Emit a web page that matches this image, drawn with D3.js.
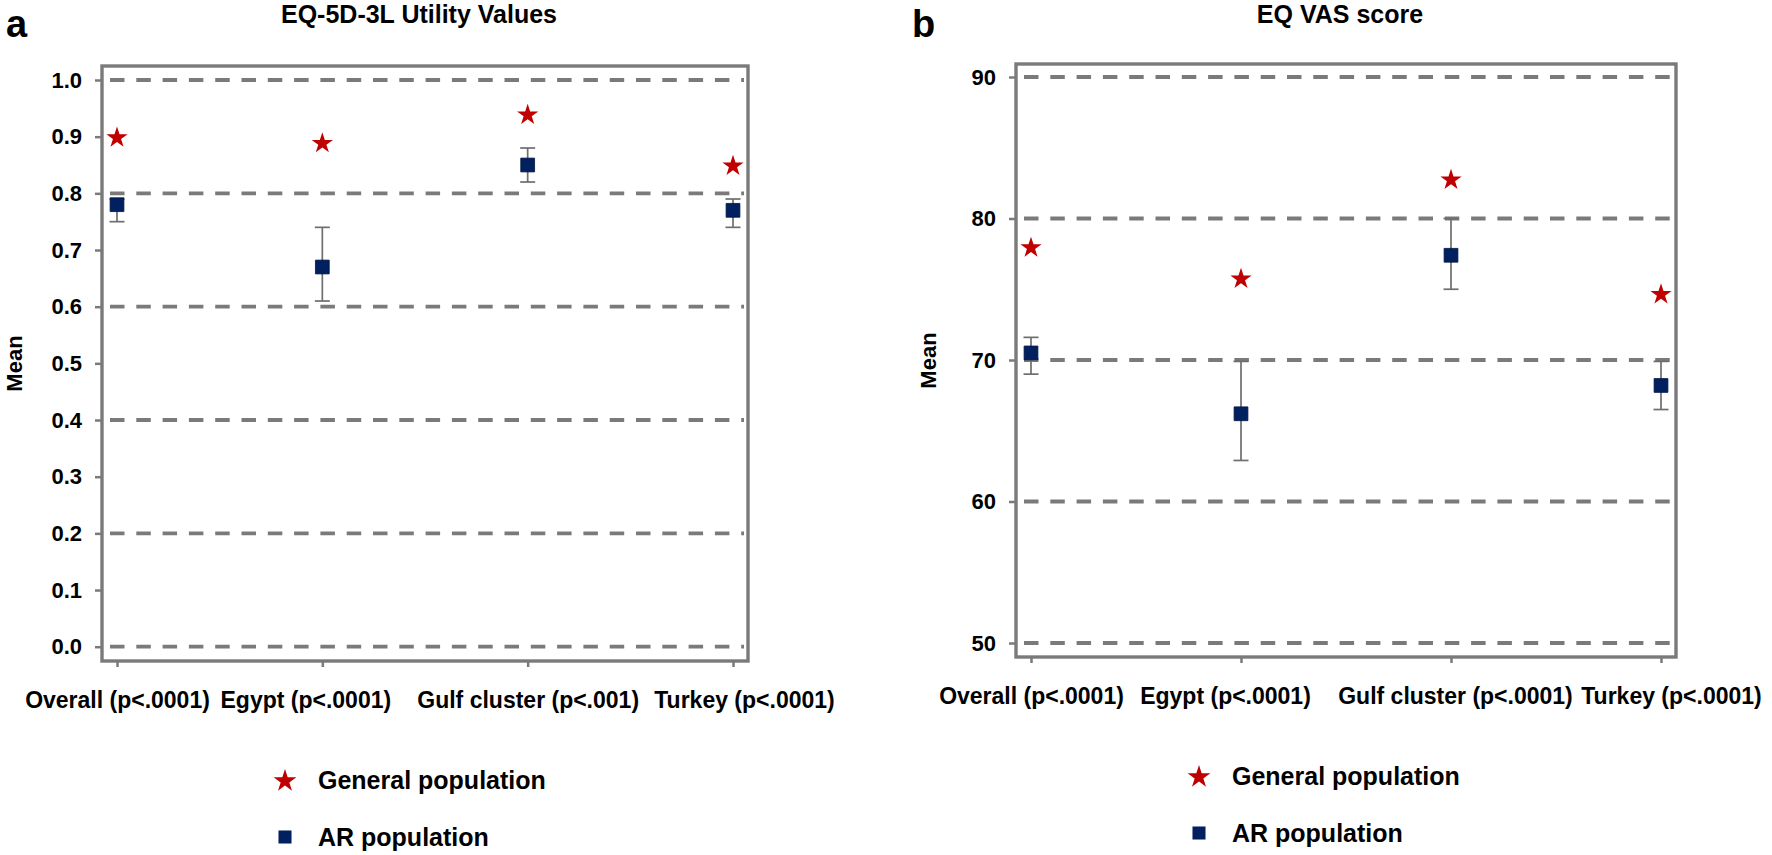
<!DOCTYPE html>
<html>
<head>
<meta charset="utf-8">
<script src="https://cdn.jsdelivr.net/npm/d3@7"></script>
<style>
  body { margin: 0; background: #fff; }
  svg { display: block; font-family: "Liberation Sans", Arial, sans-serif; font-weight: bold; }
</style>
</head>
<body>
<svg id="chart" width="1772" height="855"></svg>
<script>
// ---- data ----
var utilCategories = ["Overall (p<.0001)", "Egypt (p<.0001)", "Gulf cluster (p<.001)", "Turkey (p<.0001)"]
var utilGeneral = [0.90, 0.89, 0.94, 0.85]
var utilAR      = [0.78, 0.67, 0.85, 0.77]
var utilLower   = [0.75, 0.61, 0.82, 0.74]
var utilUpper   = [0.79, 0.74, 0.88, 0.79]
var utilTicks   = [0, 0.1, 0.2, 0.3, 0.4, 0.5, 0.6, 0.7, 0.8, 0.9, 1.0]
var utilGrid    = [0, 0.2, 0.4, 0.6, 0.8, 1.0]

var vasCategories = ["Overall (p<.0001)", "Egypt (p<.0001)", "Gulf cluster (p<.0001)", "Turkey (p<.0001)"]
var vasGeneral = [78.0, 75.8, 82.8, 74.7]
var vasAR      = [70.5, 66.2, 77.4, 68.2]
var vasLower   = [69.0, 62.9, 75.0, 66.5]
var vasUpper   = [71.6, 69.9, 80.0, 69.9]
var vasTicks   = [50, 60, 70, 80, 90]
var vasGrid    = [50, 60, 70, 80, 90]

var legendLabels = ["General population", "AR population"]

// ---- styles ----
var STAR = "#c00000", SQUARE = "#002060", GREY = "#7a7a7a", BAR = "#6e6e6e"

var svg = d3.select("#chart")

function drawPanel(o) {
  var f = o.frame
  var g = svg.append("g").attr("class", "panel")

  var x = d3.scalePoint().domain(o.categories).range([f.x0 + 15, f.x1 - 15])
  var y = d3.scaleLinear().domain(o.domain).range(o.range)

  // panel letter + title
  g.append("text").attr("x", o.letterX).attr("y", 37)
    .attr("font-size", 38).text(o.letter)
  g.append("text").attr("x", (f.x0 + f.x1) / 2 - 6).attr("y", 23)
    .attr("text-anchor", "middle").attr("font-size", 25).text(o.title)

  // dashed reference lines
  g.selectAll("line.grid").data(o.grid).enter().append("line")
    .attr("class", "grid")
    .attr("x1", f.x0 + 2).attr("x2", f.x1 - 4)
    .attr("y1", d => y(d)).attr("y2", d => y(d))
    .attr("stroke", GREY).attr("stroke-width", 3.8)
    .attr("stroke-dasharray", "14.5,11.8").attr("stroke-dashoffset", -6)

  // y axis
  var ya = g.append("g").attr("transform", "translate(" + f.x0 + ",0)")
    .call(d3.axisLeft(y).tickValues(o.ticks).tickFormat(o.fmt).tickSize(7).tickPadding(13))
  ya.select(".domain").remove()
  ya.selectAll("line").attr("stroke", GREY).attr("stroke-width", 2.5)
  ya.selectAll("text").attr("font-size", 22).attr("font-family", null)
    .attr("font-weight", "bold").attr("fill", "#000")

  // x axis
  var xa = g.append("g").attr("transform", "translate(0," + f.y1 + ")")
    .call(d3.axisBottom(x).tickSize(6).tickPadding(25))
  xa.select(".domain").remove()
  xa.selectAll("line").attr("stroke", GREY).attr("stroke-width", 2.5)
  xa.selectAll("text").attr("font-size", 23).attr("font-family", null)
    .attr("font-weight", "bold").attr("fill", "#000")
    .attr("dx", (d, i) => o.nudge[i])

  // frame
  g.append("rect").attr("x", f.x0).attr("y", f.y0)
    .attr("width", f.x1 - f.x0).attr("height", f.y1 - f.y0)
    .attr("fill", "none").attr("stroke", GREY).attr("stroke-width", 3.4)

  // y title
  g.append("text")
    .attr("transform", "translate(" + (f.x0 - 80) + "," + ((f.y0 + f.y1) / 2) + ") rotate(-90)")
    .attr("text-anchor", "middle").attr("font-size", 22).text("Mean")

  var rows = o.categories.map((c, i) => ({
    cat: c, gen: o.general[i], ar: o.ar[i], lo: o.lower[i], hi: o.upper[i]
  }))

  // error bars
  var eb = g.selectAll("g.err").data(rows).enter().append("g").attr("class", "err")
    .attr("stroke", BAR).attr("stroke-width", 1.7)
  eb.append("line").attr("x1", d => x(d.cat)).attr("x2", d => x(d.cat))
    .attr("y1", d => y(d.lo)).attr("y2", d => y(d.hi))
  eb.append("line").attr("x1", d => x(d.cat) - 7.5).attr("x2", d => x(d.cat) + 7.5)
    .attr("y1", d => y(d.lo)).attr("y2", d => y(d.lo))
  eb.append("line").attr("x1", d => x(d.cat) - 7.5).attr("x2", d => x(d.cat) + 7.5)
    .attr("y1", d => y(d.hi)).attr("y2", d => y(d.hi))

  // AR population squares
  g.selectAll("path.ar").data(rows).enter().append("path").attr("class", "ar")
    .attr("d", d3.symbol(d3.symbolSquare, 190))
    .attr("transform", d => "translate(" + x(d.cat) + "," + y(d.ar) + ")")
    .attr("fill", SQUARE).attr("stroke", "#001440").attr("stroke-width", 0.8)

  // general population stars
  g.selectAll("path.gen").data(rows).enter().append("path").attr("class", "gen")
    .attr("d", d3.symbol(d3.symbolStar, 140))
    .attr("transform", d => "translate(" + x(d.cat) + "," + (y(d.gen) + 1) + ")")
    .attr("fill", STAR)

  // legend
  var lx = f.x0 + 183, ly = f.y1 + 119
  var lg = g.append("g").attr("transform", "translate(" + lx + "," + ly + ")")
  lg.append("path").attr("d", d3.symbol(d3.symbolStar, 160)).attr("transform", "translate(0,1)").attr("fill", STAR)
  lg.append("path").attr("d", d3.symbol(d3.symbolSquare, 170)).attr("transform", "translate(0,57)").attr("fill", SQUARE)
  lg.selectAll("text").data(legendLabels).enter().append("text")
    .attr("x", 33).attr("y", (d, i) => i * 57).attr("dy", "0.35em")
    .attr("font-size", 25).text(d => d)
}

drawPanel({
  letter: "a", letterX: 6, title: "EQ-5D-3L Utility Values",
  frame: { x0: 102, x1: 748, y0: 66, y1: 661 },
  domain: [0, 1], range: [646.7, 80],
  categories: utilCategories, general: utilGeneral, ar: utilAR, lower: utilLower, upper: utilUpper,
  ticks: utilTicks, grid: utilGrid, fmt: d3.format(".1f"),
  nudge: [0, -17, 0, 11]
})

drawPanel({
  letter: "b", letterX: 912, title: "EQ VAS score",
  frame: { x0: 1016, x1: 1676, y0: 64, y1: 657 },
  domain: [50, 90], range: [643, 77],
  categories: vasCategories, general: vasGeneral, ar: vasAR, lower: vasLower, upper: vasUpper,
  ticks: vasTicks, grid: vasGrid, fmt: d3.format("d"),
  nudge: [0, -16, 4, 10]
})
</script>
</body>
</html>
